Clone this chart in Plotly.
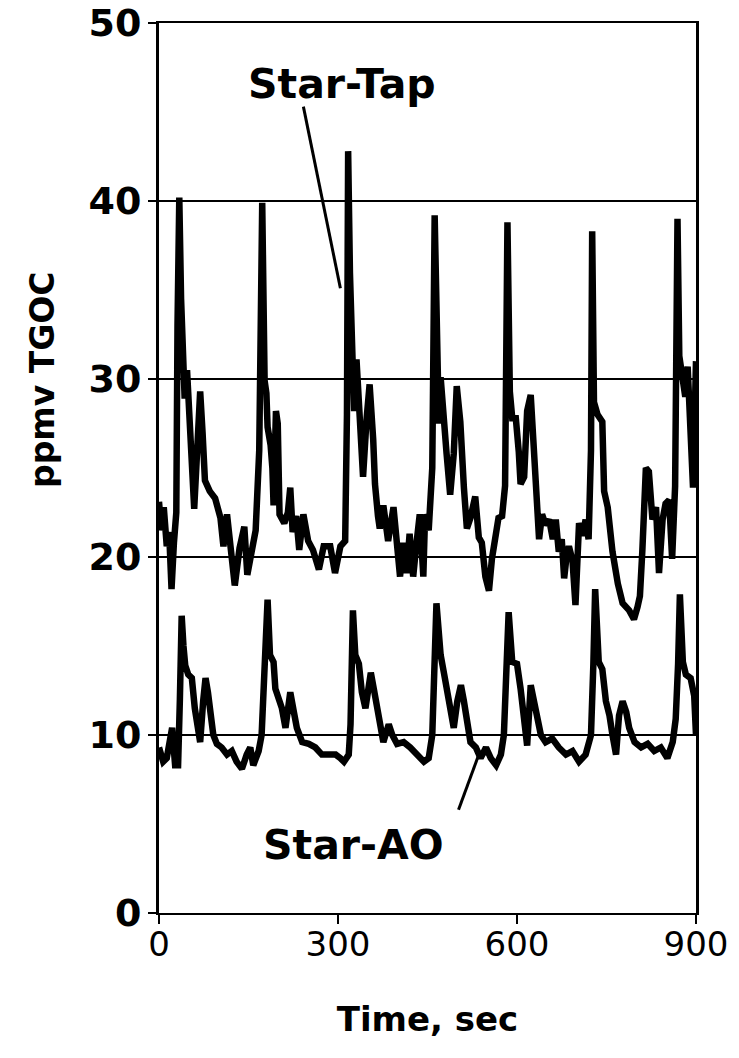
import plotly.graph_objects as go

# Star-Tap trace: time (s) and ppmv TGOC
tap_t = [0, 4, 8, 13, 17, 21, 25, 29, 31, 34, 37, 40, 43, 47, 52, 59, 64, 69, 73, 77,
         85, 94, 103, 108, 114, 119, 127, 135, 143, 148, 155, 162, 168, 173, 177, 180,
         182, 187, 190, 192, 196, 199, 202, 210, 216, 220, 224, 230, 235, 242, 250,
         258, 268, 276, 287, 295, 304, 312, 315, 317, 320, 323, 327, 331, 334, 337,
         342, 348, 353, 359, 362, 367, 370, 376, 384, 393, 398, 404, 409, 415, 420,
         426, 431, 437, 443, 446, 452, 458, 462, 466, 469, 472, 477, 482, 488, 494,
         499, 505, 511, 516, 522, 530, 536, 541, 547, 553, 558, 564, 569, 575, 580,
         584, 588, 592, 598, 603, 606, 612, 617, 623, 628, 634, 637, 642, 648, 654,
         660, 665, 670, 675, 679, 683, 687, 693, 698, 704, 710, 715, 720, 724, 726,
         729, 735, 743, 746, 752, 760, 769, 777, 788, 796, 802, 806, 810, 816, 821,
         827, 833, 838, 844, 849, 855, 860, 865, 869, 872, 877, 882, 886, 891, 895, 900]
tap_v = [23.1, 21.5, 22.8, 20.6, 21.4, 18.2, 20.8, 22.5, 33.0, 40.2, 34.5, 30.8, 28.9, 30.5,
         27.5, 22.7, 26.0, 29.3, 27.0, 24.3, 23.7, 23.3, 22.2, 20.6, 22.4, 20.6, 18.4,
         20.5, 21.7, 19.0, 20.5, 21.5, 26.0, 39.9, 29.9, 29.2, 27.3, 26.3, 25.0, 22.9,
         28.2, 27.5, 22.4, 21.9, 22.5, 23.9, 21.4, 22.3, 20.4, 22.4, 20.9, 20.4, 19.3,
         20.6, 20.6, 19.1, 20.6, 20.9, 28.0, 42.8, 36.0, 31.3, 28.2, 31.1, 29.3, 27.4,
         24.5, 27.8, 29.7, 26.6, 24.1, 22.3, 21.6, 22.9, 20.9, 22.8, 21.3, 18.9, 20.8,
         19.1, 21.3, 18.9, 20.6, 22.4, 18.9, 22.4, 21.5, 25.0, 39.2, 30.5, 27.5, 30.1,
         27.6, 25.8, 23.5, 25.8, 29.6, 27.6, 23.9, 21.6, 22.2, 23.4, 21.1, 20.8, 18.9,
         18.1, 19.9, 21.4, 22.2, 22.3, 24.0, 38.8, 29.3, 27.8, 27.8, 25.9, 24.1, 24.5,
         28.2, 29.1, 25.6, 22.8, 21.0, 22.4, 21.8, 22.1, 21.0, 22.1, 20.3, 21.0, 18.8,
         20.0, 20.6, 19.8, 17.3, 21.9, 21.2, 22.1, 21.0, 26.0, 38.3, 28.7, 28.0, 27.6,
         23.7, 22.8, 20.3, 18.5, 17.4, 17.0, 16.5, 17.2, 17.8, 20.3, 25.0, 24.8, 22.1,
         22.8, 19.1, 22.1, 23.0, 23.2, 19.9, 24.0, 39.0, 31.3, 30.2, 29.0, 30.7, 27.6,
         23.9, 31.0]

# Star-AO trace: time (s) and ppmv TGOC
ao_t = [0, 2, 7, 13, 18, 22, 27, 32, 35, 38, 41, 44, 49, 55, 60, 66, 69, 74, 78, 82,
        86, 91, 97, 105, 114, 122, 130, 139, 147, 153, 158, 167, 172, 177, 182, 186,
        192, 195, 200, 206, 212, 217, 220, 226, 231, 240, 251, 262, 273, 284, 296,
        304, 310, 318, 321, 325, 329, 335, 340, 346, 351, 355, 360, 365, 371, 376,
        385, 391, 399, 410, 421, 433, 444, 452, 458, 465, 472, 478, 483, 489, 494,
        500, 506, 511, 517, 522, 531, 539, 548, 556, 565, 573, 578, 581, 586, 592,
        600, 606, 612, 617, 623, 628, 634, 640, 648, 659, 670, 682, 693, 704, 715,
        724, 728, 731, 737, 743, 749, 755, 760, 766, 771, 777, 783, 788, 797, 808,
        819, 830, 841, 852, 861, 866, 870, 873, 878, 883, 891, 897, 900]
ao_v = [9.3, 9.0, 8.5, 8.7, 9.6, 10.4, 8.3, 8.3, 12.0, 16.7, 15.0, 13.9, 13.4, 13.2,
        11.5, 10.0, 9.6, 11.9, 13.2, 12.4, 11.5, 10.0, 9.5, 9.3, 8.9, 9.1, 8.5, 8.1,
        8.9, 9.3, 8.3, 9.1, 10.0, 13.5, 17.6, 14.5, 14.1, 12.6, 12.2, 11.5, 10.4, 12.2,
        12.4, 11.3, 10.4, 9.6, 9.5, 9.3, 8.9, 8.9, 8.9, 8.7, 8.5, 8.9, 10.6, 17.0,
        14.5, 14.0, 12.4, 11.5, 12.6, 13.5, 12.6, 11.5, 10.4, 9.6, 10.6, 10.0, 9.5,
        9.6, 9.3, 8.9, 8.5, 8.7, 10.0, 17.4, 14.5, 13.4, 12.6, 11.5, 10.4, 11.9, 12.8,
        11.9, 10.6, 9.6, 9.3, 8.7, 9.3, 8.7, 8.3, 8.9, 10.0, 13.0, 16.9, 14.1, 14.0,
        12.6, 11.1, 9.4, 12.8, 11.9, 10.8, 10.0, 9.6, 9.8, 9.3, 8.9, 9.1, 8.5, 8.9,
        10.0, 14.0, 18.2, 14.1, 13.7, 11.9, 11.1, 10.0, 8.9, 11.1, 11.9, 11.3, 10.4,
        9.6, 9.3, 9.5, 9.1, 9.3, 8.7, 9.6, 10.9, 14.0, 17.9, 14.1, 13.4, 13.2, 12.2,
        10.0]

x_ticks = [0, 300, 600, 900]
y_ticks = [0, 10, 20, 30, 40, 50]

BOLD = dict(family="DejaVu Sans", color="black", weight="bold")

fig = go.Figure()
fig.add_trace(go.Scatter(x=tap_t, y=tap_v, mode="lines", name="Star-Tap",
                         line=dict(color="black", width=6.5)))
fig.add_trace(go.Scatter(x=ao_t, y=ao_v, mode="lines", name="Star-AO",
                         line=dict(color="black", width=6.5)))

# series labels with pointer lines
fig.add_annotation(x=306, y=46.6, text="Star-Tap", showarrow=False,
                   font=dict(size=41, **BOLD))
fig.add_annotation(x=326, y=3.8, text="Star-AO", showarrow=False,
                   font=dict(size=41, **BOLD))
fig.add_shape(type="line", x0=242, y0=45.3, x1=304, y1=35.1,
              line=dict(color="black", width=3))
fig.add_shape(type="line", x0=502, y0=5.8, x1=536, y1=8.9,
              line=dict(color="black", width=3))

# y-axis title, set above the plot's vertical centre
fig.add_annotation(xref="paper", yref="y", x=-0.218, y=30.0, text="ppmv TGOC",
                   xanchor="center", yanchor="middle",
                   textangle=-90, showarrow=False, font=dict(size=33, **BOLD))

fig.update_layout(
    width=739, height=1058,
    margin=dict(l=159, r=43, t=23, b=145, autoexpand=False),
    paper_bgcolor="white", plot_bgcolor="white",
    showlegend=False,
    xaxis=dict(range=[0, 900], tickvals=x_ticks, ticks="outside", ticklen=9,
               tickwidth=2, tickcolor="black", showgrid=False, zeroline=False,
               showline=True, linecolor="black", linewidth=2, mirror=True,
               automargin=False, ticklabelstandoff=-9,
               tickfont=dict(family="DejaVu Sans", size=34, color="black"),
               title=dict(text="Time, sec", font=dict(size=34, **BOLD), standoff=44)),
    yaxis=dict(range=[0, 50], tickvals=y_ticks, ticks="outside", ticklen=8,
               tickwidth=2, tickcolor="black", showgrid=True, gridcolor="black",
               gridwidth=1.5, zeroline=False, showline=True, linecolor="black",
               linewidth=3, mirror=True, automargin=False, ticklabelstandoff=-1,
               tickfont=dict(size=38, **BOLD)),
)

fig.write_html("out.html")
